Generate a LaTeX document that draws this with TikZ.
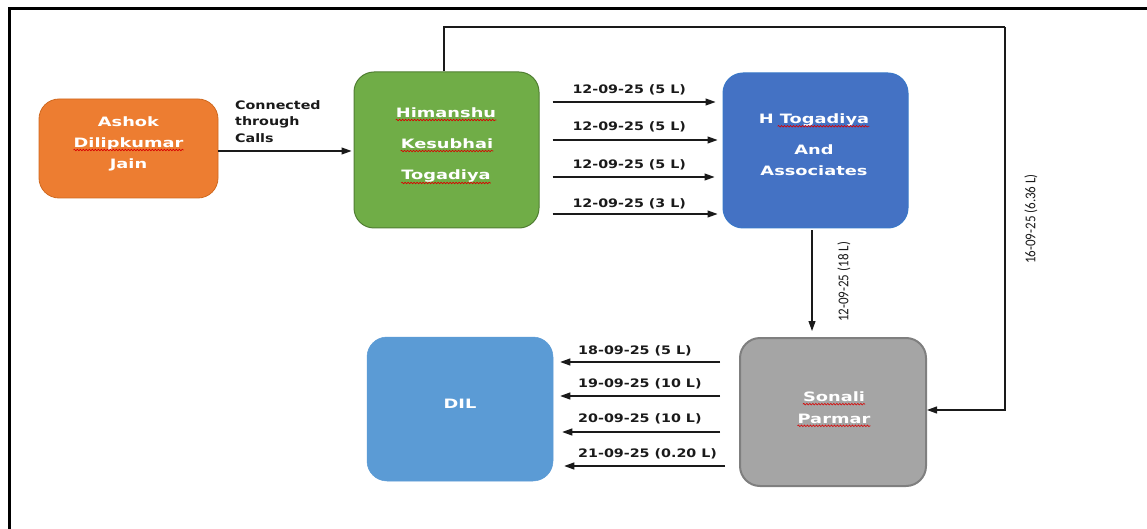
\documentclass[tikz,border=0pt]{standalone}
\usepackage{fontspec}
\usetikzlibrary{arrows.meta,decorations.pathmorphing,calc}
\newfontfamily\boxfont{DejaVu Sans}[FakeStretch=1.38]
\newfontfamily\lblfont{DejaVu Sans}[FakeStretch=1.22]
\newfontfamily\vlblfont{Carlito}
\newcommand{\tallish}[1]{\scalebox{1}[1.15]{#1}}
\definecolor{orangefill}{HTML}{ED7D31}
\definecolor{orangeline}{HTML}{D0691F}
\definecolor{greenfill}{HTML}{70AD47}
\definecolor{greenline}{HTML}{507E32}
\definecolor{bluefill}{HTML}{4472C4}
\definecolor{blueline}{HTML}{3A78C8}
\definecolor{lightblue}{HTML}{5B9BD5}
\definecolor{greyfill}{HTML}{A5A5A5}
\definecolor{greyline}{HTML}{7F7F7F}
\definecolor{ink}{HTML}{1A1A1A}
\begin{document}
\begin{tikzpicture}[x=1pt,y=-1pt,
  party/.style={rounded corners=20pt, inner sep=0pt},
  boxtext/.style={text=white, inner sep=0pt, anchor=base,
    font=\boxfont\bfseries\fontsize{12.9}{15}\selectfont},
  lbl/.style={text=ink, inner sep=0pt, anchor=base west,
    font=\lblfont\bfseries\fontsize{11.7}{14}\selectfont},
  vlbl/.style={text=ink, inner sep=0pt, rotate=90,
    font=\vlblfont\fontsize{13}{15}\selectfont},
  arr/.style={draw=ink, line width=1.1pt, -{Triangle[length=10pt,width=7pt]}},
  link/.style={draw=ink, line width=1.1pt},
  frameline/.style={draw=black, line width=3pt},
  wavy/.style={draw=red!85!black, line width=0.6pt, decorate,
    decoration={snake, amplitude=0.8pt, segment length=3pt}}]
\useasboundingbox (0,0) rectangle (1147,529);

% outer frame (top and left edges)
\draw[frameline] (8,9) -- (1147,9);
\draw[frameline] (9,9) -- (9,529);

% parties
\node[party, fill=orangefill, draw=orangeline, line width=0.8pt,
  minimum width=179pt, minimum height=99pt] (adj) at (128.5,148.5) {};
\node[party, fill=greenfill, draw=greenline, line width=1pt,
  minimum width=185pt, minimum height=156pt] (hk) at (446.5,150) {};
\node[party, fill=bluefill, draw=blueline, line width=1pt,
  minimum width=185pt, minimum height=155pt] (hta) at (815.5,150.5) {};
\node[party, fill=lightblue, draw=lightblue, line width=0.5pt,
  minimum width=186pt, minimum height=144pt] (dil) at (460,409) {};
\node[party, fill=greyfill, draw=greyline, line width=2pt,
  minimum width=186pt, minimum height=148pt] (sp) at (833,412) {};

% names inside the boxes
\node[boxtext] (adj1) at (128.5,126.5) {Ashok};
\node[boxtext] (adj2) at (128.5,147.5) {Dilipkumar};
\node[boxtext] (adj3) at (128.5,168.5) {Jain};
\node[boxtext] (hk1) at (446,117.3) {Himanshu};
\node[boxtext] (hk2) at (447,148.3) {Kesubhai};
\node[boxtext] (hk3) at (446,180) {Togadiya};
\node[boxtext] (hta1) at (814,123.3) {H Togadiya};
\node[boxtext] (hta2) at (814,154.3) {And};
\node[boxtext] (hta3) at (814,176) {Associates};
\node[boxtext] (dil1) at (460,408.3) {DIL};
\node[boxtext] (sp1) at (834,401.7) {Sonali};
\node[boxtext] (sp2) at (834,423.3) {Parmar};

% spell-check marks under the names
\draw[wavy] ([yshift=-2.5pt]adj2.base west) -- ([yshift=-2.5pt]adj2.base east);
\draw[wavy] ([yshift=-2.7pt]hk1.base west) -- ([yshift=-2.7pt]hk1.base east);
\draw[wavy] ([yshift=-2.7pt]hk2.base west) -- ([yshift=-2.7pt]hk2.base east);
\draw[wavy] ([yshift=-3pt]hk3.base west) -- ([yshift=-3pt]hk3.base east);
\draw[wavy] ([xshift=19pt,yshift=-3pt]hta1.base west) -- ([yshift=-3pt]hta1.base east);
\draw[wavy] ([yshift=-2.5pt]sp1.base west) -- ([yshift=-2.5pt]sp1.base east);
\draw[wavy] ([yshift=-2.5pt]sp2.base west) -- ([yshift=-2.5pt]sp2.base east);

% calls between Ashok and Himanshu
\draw[arr, shorten >=2pt] (adj.east |- 0,151) -- (hk.west |- 0,151);
\node[lbl] (c1) at (235,110) {Connected};
\node[lbl] (c2) at (235,125.7) {through};
\node[lbl] (c3) at (235,142.3) {Calls};

% transfers Himanshu -> H Togadiya and Associates
\draw[arr, shorten <=13pt, shorten >=7pt] (hk.east |- 0,102) -- (hta.west |- 0,102);
\draw[arr, shorten <=13pt, shorten >=5pt] (hk.east |- 0,140) -- (hta.west |- 0,140);
\draw[arr, shorten <=13pt, shorten >=8pt] (hk.east |- 0,177) -- (hta.west |- 0,177);
\draw[arr, shorten <=13pt, shorten >=5pt] (hk.east |- 0,214) -- (hta.west |- 0,214);
\node[lbl] (t1) at (572.3,93.3) {12-09-25 (5 L)};
\node[lbl] (t2) at (572.3,131) {12-09-25 (5 L)};
\node[lbl] (t3) at (572.3,169) {12-09-25 (5 L)};
\node[lbl] (t4) at (572.3,207.3) {12-09-25 (3 L)};

% H Togadiya and Associates -> Sonali
\draw[arr, shorten <=2pt, shorten >=6pt] (hta.south -| 812,0) -- (sp.north -| 812,0);
\node[vlbl] (v1) at (844,282) {\tallish{12-09-25 (18 L)}};

% Himanshu -> Sonali, routed over the top
\coordinate (tr) at (1005,27);
\draw[link] (hk.north -| 444,0) |- (tr);
\draw[arr] (tr) |- (sp.east |- 0,410);
\node[vlbl] (v2) at (1031,219) {\tallish{16-09-25 (6.36 L)}};

% transfers Sonali -> DIL
\draw[arr, shorten <=19pt, shorten >=7pt] (sp.west |- 0,362) -- (dil.east |- 0,362);
\draw[arr, shorten <=19pt, shorten >=7pt] (sp.west |- 0,396) -- (dil.east |- 0,396);
\draw[arr, shorten <=19pt, shorten >=9pt] (sp.west |- 0,432) -- (dil.east |- 0,432);
\draw[arr, shorten <=14pt, shorten >=11pt] (sp.west |- 0,466) -- (dil.east |- 0,466);
\node[lbl] (b1) at (578,354) {18-09-25 (5 L)};
\node[lbl] (b2) at (578,387.3) {19-09-25 (10 L)};
\node[lbl] (b3) at (578,422.7) {20-09-25 (10 L)};
\node[lbl] (b4) at (578,457.3) {21-09-25 (0.20 L)};
\end{tikzpicture}
\end{document}
